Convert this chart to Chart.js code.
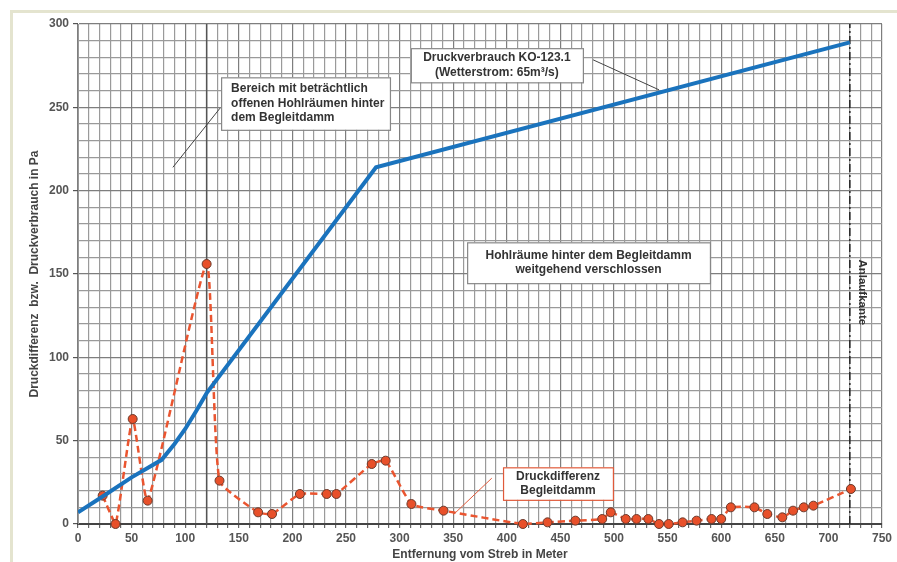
<!DOCTYPE html>
<html>
<head>
<meta charset="utf-8">
<script src="https://cdn.jsdelivr.net/npm/chart.js@4.4.1/dist/chart.umd.min.js"></script>
<style>
  html, body { margin: 0; padding: 0; background: #fff; }
  #wrap { position: relative; width: 897px; height: 562px; }
  #frame { position: absolute; left: 10px; top: 10px; right: 0; bottom: 0;
           border-left: 3px solid #e4e4cf; border-top: 3px solid #e4e4cf; }
  canvas { position: absolute; left: 0; top: 0; }
</style>
</head>
<body>
<div id="wrap">
  <div id="frame"></div>
  <canvas id="chartDruck"></canvas>
</div>
<script>
// Druckverbrauch KO-123.1 (blaue Linie)
var verbrauchX = [0, 23, 50, 78, 90, 100, 110, 120, 278, 720];
var verbrauchY = [7, 16.5, 28, 38.5, 48, 57, 67.5, 78.5, 214, 289];

// Druckdifferenz Begleitdamm (rote Punkte)
var differenzX = [23, 35, 51, 65, 120, 132, 168, 181, 207, 232, 241, 274, 287, 311, 341,
                  415, 438, 464, 489, 497, 511, 521, 532, 542, 551, 564, 577, 591, 600,
                  609, 631, 643, 657, 667, 677, 686, 721];
var differenzY = [17, 0, 63, 14, 156, 26, 7, 6, 18, 18, 18, 36, 38, 12, 8,
                  0, 1, 2, 3, 7, 3, 3, 3, 0, 0, 1, 2, 3, 3,
                  10, 10, 6, 4, 8, 10, 11, 21];

// senkrechte Markierungen
var grenzeX = 120;
var anlaufkanteX = 720;

var xTicksMax = 750;
var yTicksMax = 300;

var fontFam = "'Liberation Sans', Arial, sans-serif";

function toPoints(xs, ys) {
  var out = [];
  for (var i = 0; i < xs.length; i++) out.push({ x: xs[i], y: ys[i] });
  return out;
}

// Textfelder (in Achsenwerten)
var boxes = [
  { x0: 133.5, y0: 268, x1: 291, y1: 236.5, lines: ['Bereich mit beträchtlich', 'offenen Hohlräumen hinter', 'dem Begleitdamm'], align: 'left', border: '#888' },
  { x0: 310.5, y0: 285.5, x1: 471, y1: 265, lines: ['Druckverbrauch KO-123.1', '(Wetterstrom: 65m³/s)'], align: 'center', border: '#888' },
  { x0: 363, y0: 169, x1: 589.5, y1: 144.5, lines: ['Hohlräume hinter dem Begleitdamm', 'weitgehend verschlossen'], align: 'center', border: '#888' },
  { x0: 396.5, y0: 34, x1: 499, y1: 14.5, lines: ['Druckdifferenz', 'Begleitdamm'], align: 'center', border: '#e05a3a' }
];
var pointers = [
  { x0: 132.5, y0: 249.5, x1: 88.5, y1: 214, color: '#444' },
  { x0: 480.5, y0: 278.5, x1: 542, y1: 260.5, color: '#444' },
  { x0: 386, y0: 27.5, x1: 350, y1: 5.5, color: '#e05a3a' }
];

var annotationsPlugin = {
  id: 'annotationsPlugin',
  afterDatasetsDraw: function (chart) {
    var ctx = chart.ctx;
    var sx = chart.scales.x, sy = chart.scales.y;
    ctx.save();
    pointers.forEach(function (p) {
      ctx.strokeStyle = p.color;
      ctx.lineWidth = 1;
      ctx.beginPath();
      ctx.moveTo(sx.getPixelForValue(p.x0), sy.getPixelForValue(p.y0));
      ctx.lineTo(sx.getPixelForValue(p.x1), sy.getPixelForValue(p.y1));
      ctx.stroke();
    });
    boxes.forEach(function (b) {
      var l = sx.getPixelForValue(b.x0), t = sy.getPixelForValue(b.y0);
      var r = sx.getPixelForValue(b.x1), bo = sy.getPixelForValue(b.y1);
      ctx.fillStyle = '#fff';
      ctx.fillRect(l, t, r - l, bo - t);
      ctx.strokeStyle = b.border;
      ctx.lineWidth = 1.2;
      ctx.strokeRect(l + 0.5, t + 0.5, r - l, bo - t);
      ctx.fillStyle = '#333';
      ctx.font = 'bold 12px ' + fontFam;
      ctx.textBaseline = 'middle';
      var lh = 14.5;
      var cy = (t + bo) / 2 - (b.lines.length - 1) * lh / 2;
      b.lines.forEach(function (s, i) {
        if (b.align === 'left') {
          ctx.textAlign = 'left';
          ctx.fillText(s, l + 10, cy + i * lh);
        } else {
          ctx.textAlign = 'center';
          ctx.fillText(s, (l + r) / 2, cy + i * lh);
        }
      });
    });
    // Anlaufkante
    ctx.translate(sx.getPixelForValue(anlaufkanteX) + 5, sy.getPixelForValue(139));
    ctx.rotate(Math.PI / 2);
    ctx.fillStyle = '#333';
    ctx.font = 'bold 11.5px ' + fontFam;
    ctx.textAlign = 'center';
    ctx.textBaseline = 'bottom';
    ctx.fillText('Anlaufkante', 0, -2);
    ctx.restore();
  }
};

function gridColor(c) {
  return c.tick && c.tick.value % 50 === 0 ? '#7e7e7e' : '#9a9a9a';
}

var ctxEl = document.getElementById('chartDruck');
new Chart(ctxEl, {
  type: 'line',
  data: {
    datasets: [
      {
        label: 'Druckdifferenz Begleitdamm',
        data: toPoints(differenzX, differenzY),
        borderColor: '#ea5530',
        borderWidth: 2.5,
        borderDash: [7, 4],
        backgroundColor: '#ea5530',
        pointBackgroundColor: '#e8502a',
        pointBorderColor: '#6a3a2c',
        pointBorderWidth: 1,
        pointRadius: 4.5,
        tension: 0.15,
        clip: false,
        order: 2
      },
      {
        label: 'Druckverbrauch KO-123.1',
        data: toPoints(verbrauchX, verbrauchY),
        borderColor: '#1a73bd',
        borderWidth: 4,
        pointRadius: 0,
        tension: 0,
        order: 1
      },
      {
        label: 'Grenze',
        data: [{ x: grenzeX, y: 0 }, { x: grenzeX, y: yTicksMax }],
        borderColor: '#555',
        borderWidth: 1.5,
        pointRadius: 0,
        order: 3
      },
      {
        label: 'Anlaufkante',
        data: [{ x: anlaufkanteX, y: 0 }, { x: anlaufkanteX, y: yTicksMax }],
        borderColor: '#222',
        borderWidth: 1.5,
        borderDash: [8, 3, 2, 3],
        pointRadius: 0,
        order: 3
      }
    ]
  },
  options: {
    responsive: true,
    maintainAspectRatio: false,
    animation: false,
    layout: { padding: { top: 24, right: 15, left: 0, bottom: 0 } },
    scales: {
      x: {
        type: 'linear',
        min: 0,
        max: xTicksMax,
        afterFit: function (s) { s.height = 38; },
        ticks: {
          stepSize: 10,
          autoSkip: false,
          maxRotation: 0,
          padding: 3,
          color: '#555',
          font: { family: fontFam, size: 12, weight: 'bold' },
          callback: function (v) { return v % 50 === 0 ? v : ''; }
        },
        grid: {
          color: gridColor,
          lineWidth: 1.2,
          tickLength: 4,
          tickColor: '#666'
        },
        border: { color: '#444', width: 2 },
        title: {
          display: true,
          text: 'Entfernung vom Streb in Meter',
          color: '#444',
          padding: { top: 0, bottom: 0 },
          font: { family: fontFam, size: 12, weight: 'bold' }
        }
      },
      y: {
        type: 'linear',
        min: 0,
        max: yTicksMax,
        afterFit: function (s) { s.width = 78; },
        ticks: {
          stepSize: 10,
          autoSkip: false,
          padding: 4,
          color: '#555',
          font: { family: fontFam, size: 12, weight: 'bold' },
          callback: function (v) { return v % 50 === 0 ? v : ''; }
        },
        grid: {
          color: gridColor,
          lineWidth: 1.2,
          tickLength: 5,
          tickColor: function (c) { return c.tick && c.tick.value % 50 === 0 ? '#555' : 'rgba(0,0,0,0)'; }
        },
        border: { color: '#999', width: 1 },
        title: {
          display: true,
          text: 'Druckdifferenz  bzw.  Druckverbrauch in Pa',
          color: '#444',
          padding: { top: 27, bottom: 0 },
          font: { family: fontFam, size: 12, weight: 'bold' }
        }
      }
    },
    plugins: {
      legend: { display: false },
      tooltip: { enabled: false }
    }
  },
  plugins: [annotationsPlugin]
});
</script>
</body>
</html>
